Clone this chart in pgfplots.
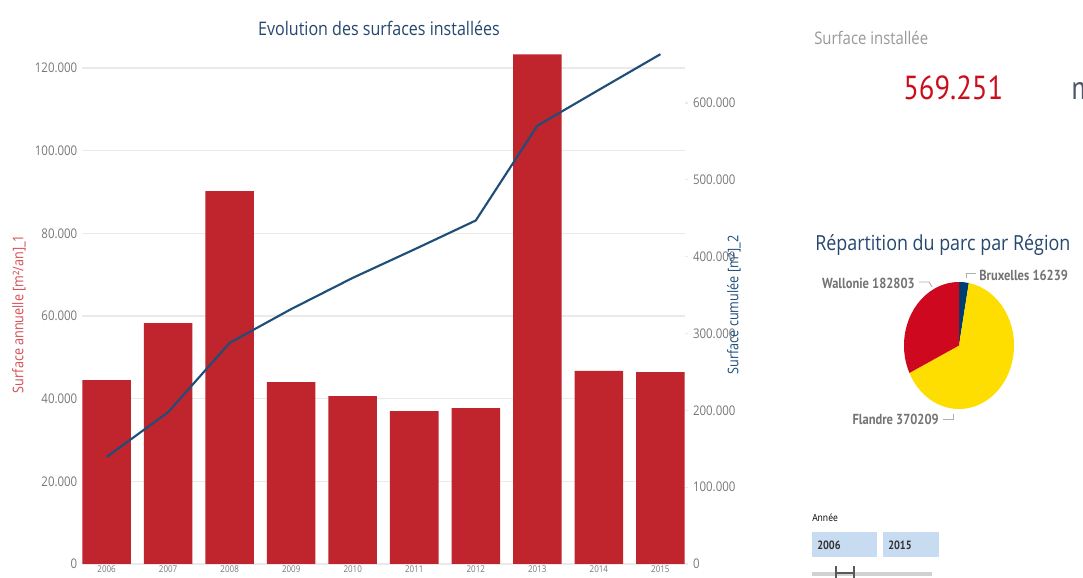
\documentclass[border=0pt]{standalone}
\usepackage{pgfplots}
\usepackage{pgfplotstable}
\pgfplotsset{compat=1.18}
\usepackage{fontspec}
\setmainfont[FakeStretch=0.86]{Open Sans}
\newfontfamily\din[FakeStretch=0.86]{PT Sans}
\definecolor{barred}{RGB}{192,36,44}
\definecolor{lineblue}{RGB}{31,78,121}
\definecolor{titleblue}{RGB}{37,71,112}
\definecolor{ticgray}{RGB}{120,120,120}
\definecolor{gridgray}{RGB}{234,234,234}
\definecolor{labred}{RGB}{214,78,84}
\definecolor{kpired}{RGB}{204,14,28}
\definecolor{wal}{RGB}{206,8,30}
\definecolor{fla}{RGB}{254,221,0}
\definecolor{bru}{RGB}{0,61,112}
\definecolor{boxblue}{RGB}{200,220,241}
\definecolor{leadgray}{RGB}{175,175,175}
\definecolor{pielab}{RGB}{115,115,115}
\definecolor{unitgray}{RGB}{80,88,105}

\pgfplotstableread{
x year annual cumul
0 2006 44500 139300
1 2007 58300 197600
2 2008 90200 287800
3 2009 44000 331800
4 2010 40600 372400
5 2011 37000 409400
6 2012 37700 447100
7 2013 123300 570400
8 2014 46700 617100
9 2015 46400 663500
}\datatable

\begin{document}
\begin{tikzpicture}[x=0.75pt,y=0.75pt]
\useasboundingbox (0,0) rectangle (1083,578);
\fill[white] (0,0) rectangle (1083,578);

\begin{axis}[
  at={(61.5pt,10.5pt)}, anchor=south west,
  scale only axis, width=452.25pt, height=385.5pt,
  xmin=-0.4, xmax=9.4, ymin=0, ymax=124350,
  axis y line*=left, axis x line*=bottom,
  axis line style={draw=none},
  major tick length=0pt,
  scaled y ticks=false,
  ymajorgrids, grid style={gridgray, line width=1pt},
  ytick={0,20000,40000,60000,80000,100000,120000},
  yticklabels={0,20.000,40.000,60.000,80.000,100.000,120.000},
  xtick={0,1,2,3,4,5,6,7,8,9},
  xticklabels={2006,2007,2008,2009,2010,2011,2012,2013,2014,2015},
  yticklabel style={font=\fontsize{10}{12}\selectfont, text=ticgray},
  xticklabel style={font=\fontsize{7}{8}\selectfont, text=ticgray, inner sep=1pt},
  clip=false,
]
\addplot[ybar, bar width=36.4pt, fill=barred, draw=none] table[x=x,y=annual]{\datatable};
\end{axis}

\begin{axis}[
  at={(61.5pt,10.5pt)}, anchor=south west,
  scale only axis, width=452.25pt, height=385.5pt,
  xmin=-0.4, xmax=9.4, ymin=0, ymax=669000,
  axis y line*=right, axis x line=none,
  axis line style={draw=none},
  scaled y ticks=false,
  ytick={0,100000,200000,300000,400000,500000,600000},
  yticklabels={0,100.000,200.000,300.000,400.000,500.000,600.000},
  tick align=outside, major tick length=2.5pt,
  tick style={gridgray, line width=0.8pt},
  yticklabel style={font=\fontsize{10}{12}\selectfont, text=ticgray},
  clip=false,
]
\addplot[lineblue, line width=1.6pt] table[x=x,y=cumul]{\datatable};
\end{axis}

% titles and axis labels
\node[text=titleblue, font=\fontsize{14}{16}\selectfont] at (379,550) {Evolution des surfaces installées};
\node[rotate=90, text=labred, font=\fontsize{11}{13}\selectfont] at (19,264) {Surface annuelle [m²/an]\_1};
\node[rotate=90, text=lineblue, font=\fontsize{11}{13}\selectfont] at (734,273) {Surface cumulée [m²]\_2};

% KPI card
\node[anchor=west, inner sep=0pt, text=black!40, font=\fontsize{13}{15}\selectfont] at (814,540) {Surface installée};
\node[anchor=base west, inner sep=0pt, text=kpired, font=\din\fontsize{25}{28}\selectfont] at (903,478) {569.251};
\node[anchor=base west, inner sep=0pt, text=unitgray, font=\din\fontsize{25}{28}\selectfont] at (1071,478) {m²};

% pie
\node[anchor=west, inner sep=0pt, text=titleblue, font=\fontsize{15.6}{18}\selectfont] at (815,333) {Répartition du parc par Région};
\pgfmathsetmacro\tot{182.803+370.209+16.239}
\pgfmathsetmacro\aB{16.239/\tot*360}
\pgfmathsetmacro\aF{370.209/\tot*360}
\pgfmathsetmacro\eB{90-\aB}
\pgfmathsetmacro\eF{\eB-\aF}
\fill[bru] (959,232.5) -- ++(0,63.5) arc[start angle=90, end angle=\eB, x radius=55, y radius=63.5] -- cycle;
\fill[fla] (959,232.5) -- ++({55*cos(\eB)},{63.5*sin(\eB)}) arc[start angle=\eB, end angle=\eF, x radius=55, y radius=63.5] -- cycle;
\fill[wal] (959,232.5) -- ++({55*cos(\eF)},{63.5*sin(\eF)}) arc[start angle=\eF, end angle=-270, x radius=55, y radius=63.5] -- cycle;

\node[anchor=east, inner sep=0pt, text=pielab, font=\din\bfseries\fontsize{10.9}{13}\selectfont] at (915,295) {Wallonie 182803};
\draw[leadgray, line width=0.7pt] (919,296) -- (929,296) -- (932,291);
\node[anchor=west, inner sep=0pt, text=pielab, font=\din\bfseries\fontsize{10.9}{13}\selectfont] at (979,303) {Bruxelles 16239};
\draw[leadgray, line width=0.7pt] (976,305) -- (966,305) -- (966,300);
\node[anchor=east, inner sep=0pt, text=pielab, font=\din\bfseries\fontsize{10.9}{13}\selectfont] at (939,159) {Flandre 370209};
\draw[leadgray, line width=0.7pt] (943,159) -- (953,159) -- (953,164);

% slicer
\node[anchor=west, inner sep=0pt, font=\fontsize{7.5}{9}\selectfont] at (812,60) {Année};
\fill[boxblue] (812,46) rectangle (877,21);
\fill[boxblue] (883,46) rectangle (939,21);
\node[anchor=west, inner sep=0pt, text=black!80, font=\din\bfseries\fontsize{9}{11}\selectfont] at (817,33) {2006};
\node[anchor=west, inner sep=0pt, text=black!80, font=\din\bfseries\fontsize{9}{11}\selectfont] at (888,33) {2015};
\draw[line width=3pt, black!18] (812,4) -- (932,4);
\draw[line width=2.2pt, black!65] (836,12) -- (836,-2) (854,12) -- (854,-2);
\draw[line width=2pt, black!65] (836,5) -- (854,5);
\end{tikzpicture}
\end{document}
